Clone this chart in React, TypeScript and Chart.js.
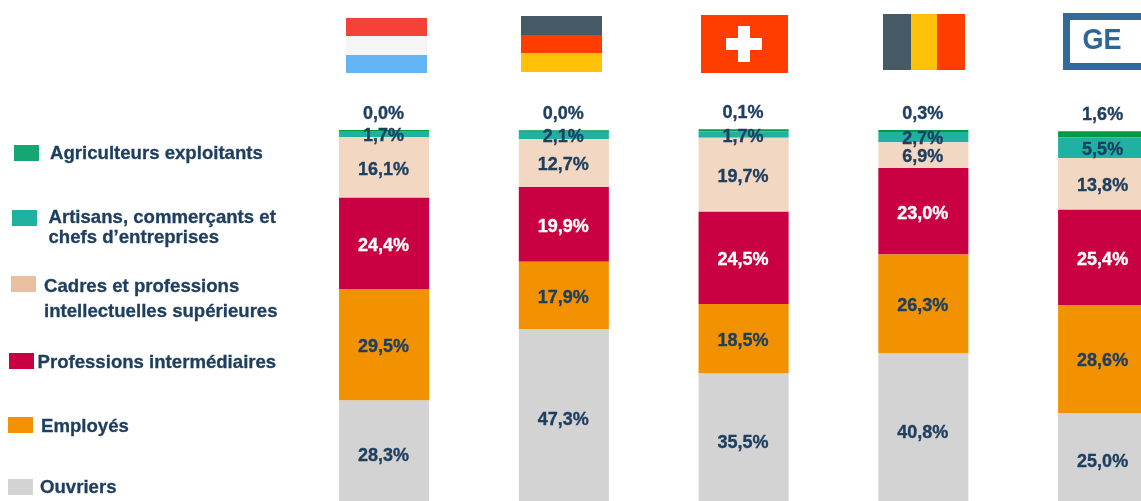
import React, { useEffect, useRef } from "react";
import { Chart, registerables } from "chart.js";

Chart.register(...registerables);

const territories = ["Luxembourg", "Allemagne", "Suisse", "Belgique", "Grand Est"];
const ouvriers = [28.3, 47.3, 35.5, 40.8, 25.0];
const employes = [29.5, 17.9, 18.5, 26.3, 28.6];
const intermediaires = [24.4, 19.9, 24.5, 23.0, 25.4];
const cadres = [16.1, 12.7, 19.7, 6.9, 13.8];
const artisans = [1.7, 2.1, 1.7, 2.7, 5.5];
const agriculteurs = [0.0, 0.0, 0.1, 0.3, 1.6];

const INK = "#1F3F60";
const FONT = '"Liberation Sans", Arial, sans-serif';
const fmt = (v: number) => v.toFixed(1).replace(".", ",") + "%";

const valueLabels = {
  id: "valueLabels",
  afterDatasetsDraw(chart: any) {
    const { ctx } = chart;
    ctx.save();
    ctx.font = `bold 18px ${FONT}`;
    ctx.textAlign = "center";
    ctx.textBaseline = "middle";
    ctx.lineWidth = 0.35;
    chart.data.datasets.forEach((ds: any, i: number) => {
      const meta = chart.getDatasetMeta(i);
      const isTop = i === chart.data.datasets.length - 1;
      meta.data.forEach((bar: any, j: number) => {
        const y = isTop ? Math.min(bar.y, bar.base) - 16 : (bar.y + bar.base) / 2 + 2.3;
        ctx.fillStyle = ds.labelColor;
        ctx.strokeStyle = ds.labelColor;
        ctx.fillText(fmt(ds.data[j]), bar.x - 0.5, y);
        ctx.strokeText(fmt(ds.data[j]), bar.x - 0.5, y);
      });
    });
    ctx.restore();
  },
};

const box = (x: number, y: number, w: number, h: number, background: string): React.CSSProperties => ({
  position: "absolute",
  left: x,
  top: y,
  width: w,
  height: h,
  background,
});

function Stripe({ x, y, w, h, c }: { x: number; y: number; w: number; h: number; c: string }) {
  return <div style={box(x, y, w, h, c)} />;
}

function Legend({ x, y, color, tx, lines }: { x: number; y: number; color: string; tx: number; lines: [string, number][] }) {
  return (
    <>
      <div style={box(x, y, 25, 16, color)} />
      {lines.map(([t, cy]) => (
        <div
          key={t}
          style={{
            position: "absolute",
            left: tx,
            top: cy - 12,
            height: 24,
            font: `bold 18.6px/24px ${FONT}`,
            color: INK,
            whiteSpace: "nowrap",
            WebkitTextStroke: `0.3px ${INK}`,
          }}
        >
          {t}
        </div>
      ))}
    </>
  );
}

export default function App() {
  const ref = useRef<HTMLCanvasElement>(null);
  useEffect(() => {
    const chart = new Chart(ref.current!, {
      type: "bar",
      data: {
        labels: territories,
        datasets: [
          { label: "Ouvriers", data: ouvriers, backgroundColor: "#D3D3D3", labelColor: INK },
          { label: "Employés", data: employes, backgroundColor: "#F39200", labelColor: INK },
          { label: "Professions intermédiaires", data: intermediaires, backgroundColor: "#C90042", labelColor: "#FFFFFF" },
          { label: "Cadres et professions intellectuelles supérieures", data: cadres, backgroundColor: "#F2D7C2", labelColor: INK },
          { label: "Artisans, commerçants et chefs d’entreprises", data: artisans, backgroundColor: "#20B2A0", labelColor: INK },
          { label: "Agriculteurs exploitants", data: agriculteurs, backgroundColor: "#009A44", labelColor: INK, minBarLength: 2 },
        ] as any,
      },
      options: {
        responsive: false,
        animation: false,
        layout: { padding: { left: 294.2, top: 129, right: 0, bottom: 0 } },
        datasets: { bar: { categoryPercentage: 1, barPercentage: 0.501 } },
        plugins: { legend: { display: false }, tooltip: { enabled: false } },
        scales: {
          x: { stacked: true, display: false },
          y: { stacked: true, display: false, min: 0, max: 100.5 },
        },
      },
      plugins: [valueLabels],
    });
    return () => chart.destroy();
  }, []);

  return (
    <div style={{ position: "absolute", left: 0, top: 0, width: 1141, height: 501, overflow: "hidden", background: "#fff" }}>
      <canvas ref={ref} width={1193} height={507} style={{ position: "absolute", left: 0, top: 0 }} />

      <Stripe x={345.5} y={18} w={81} h={18} c="#F44336" />
      <Stripe x={345.5} y={36} w={81} h={18.5} c="#F5F5F5" />
      <Stripe x={345.5} y={54.5} w={81} h={18} c="#64B5F6" />

      <Stripe x={520.5} y={16} w={81} h={19} c="#455A64" />
      <Stripe x={520.5} y={35} w={81} h={18} c="#FF3D00" />
      <Stripe x={520.5} y={53} w={81} h={18.5} c="#FFC107" />

      <Stripe x={701} y={14.5} w={87} h={58.5} c="#FF3D00" />
      <Stripe x={738.3} y={26} w={12} h={36} c="#FFFFFF" />
      <Stripe x={726.3} y={38} w={36} h={12} c="#FFFFFF" />

      <Stripe x={882.5} y={13.5} w={28} h={56} c="#455A64" />
      <Stripe x={910.5} y={13.5} w={26} h={56} c="#FFC107" />
      <Stripe x={936.5} y={13.5} w={28} h={56} c="#FF3D00" />

      <div
        style={{
          position: "absolute",
          left: 1063,
          top: 13,
          width: 120,
          height: 57,
          boxSizing: "border-box",
          border: "7px solid #336A99",
          background: "#fff",
        }}
      />
      <div
        style={{
          position: "absolute",
          left: 1063,
          width: 78,
          top: 20,
          height: 38,
          textAlign: "center",
          font: `bold 27px/38px ${FONT}`,
          color: "#2F6496",
          transform: "scaleY(1.08)",
        }}
      >
        GE
      </div>

      <Legend x={14} y={145} color="#17A673" tx={50} lines={[["Agriculteurs exploitants", 153]]} />
      <Legend x={12} y={210} color="#20B2A0" tx={48.5} lines={[["Artisans, commerçants et", 217], ["chefs d’entreprises", 237]]} />
      <Legend x={11} y={276} color="#E8BFA0" tx={44} lines={[["Cadres et professions", 286], ["intellectuelles supérieures", 311]]} />
      <Legend x={9} y={353} color="#C90042" tx={37.5} lines={[["Professions intermédiaires", 362]]} />
      <Legend x={8} y={417} color="#F39200" tx={41} lines={[["Employés", 426]]} />
      <Legend x={8} y={479} color="#D3D3D3" tx={40} lines={[["Ouvriers", 487]]} />
    </div>
  );
}
